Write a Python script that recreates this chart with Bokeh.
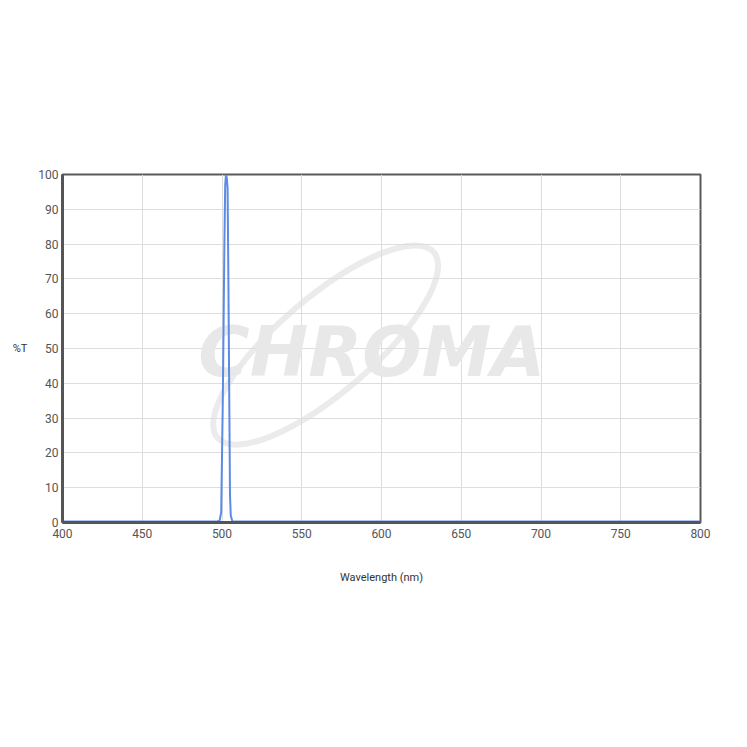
from bokeh.plotting import figure
from bokeh.models import FixedTicker, Range1d, Label
from bokeh.embed import file_html
from bokeh.resources import INLINE

# Transmission spectrum
wavelength = [400, 450, 490, 497, 498.5, 499.5, 500.5, 501.5, 502, 502.5, 503, 503.5, 504, 505, 505.5, 506.5, 520, 600, 700, 800]
transmission = [0.3, 0.3, 0.3, 0.3, 0.5, 3, 35, 80, 97, 100, 99, 96, 70, 8, 2, 0.3, 0.3, 0.3, 0.3, 0.3]

x_ticks = [400, 450, 500, 550, 600, 650, 700, 750, 800]
y_ticks = [0, 10, 20, 30, 40, 50, 60, 70, 80, 90, 100]

FONT = "Roboto"

p = figure(width=731, height=731, output_backend="svg", toolbar_location=None,
           x_range=Range1d(400, 800), y_range=Range1d(0, 100),
           min_border_left=62, min_border_right=31, min_border_top=174, min_border_bottom=209)
p.background_fill_color = "white"
p.border_fill_color = "white"
p.outline_line_color = "#5a5a5a"
p.outline_line_width = 2

# Watermark
p.ellipse(x=[565], y=[51], width=285, height=95, angle=0.71,
          width_units="screen", height_units="screen",
          fill_color=None, line_color="#ebebeb", line_width=6, level="underlay")
wm = Label(x=594, y=49, text="CHROMA", text_font="DejaVu Sans", text_font_size="70px",
           text_font_style="bold italic", text_color="#e8e8e8", text_align="center",
           text_baseline="middle", level="underlay")
p.add_layout(wm)

p.line(wavelength, transmission, line_color="#5b8be6", line_width=2)

p.xaxis.ticker = FixedTicker(ticks=x_ticks)
p.yaxis.ticker = FixedTicker(ticks=y_ticks)
for ax in (p.xaxis, p.yaxis):
    ax.axis_line_color = "#555555"
    ax.axis_line_width = 3
    ax.major_tick_line_color = None
    ax.minor_tick_line_color = None
    ax.major_tick_out = 0
    ax.major_tick_in = 0
    ax.major_label_text_font = FONT
    ax.major_label_text_font_size = "12px"
    ax.major_label_text_color = "#555555"
    ax.axis_label_text_font = FONT
    ax.axis_label_text_font_size = "11px"
    ax.axis_label_text_font_style = "normal"
    ax.axis_label_text_color = "#333333"

p.xaxis.axis_label = "Wavelength (nm)"
p.xaxis.major_label_standoff = 6
p.xaxis.axis_label_standoff = 30
p.yaxis.axis_label = "%T"
p.yaxis.axis_label_orientation = "horizontal"
p.yaxis.major_label_standoff = 4
p.yaxis.axis_label_standoff = 8

p.xgrid.grid_line_color = "#dddddd"
p.ygrid.grid_line_color = "#dddddd"
p.xgrid.grid_line_width = 1
p.ygrid.grid_line_width = 1

open("out.html", "w").write(file_html(p, INLINE))
